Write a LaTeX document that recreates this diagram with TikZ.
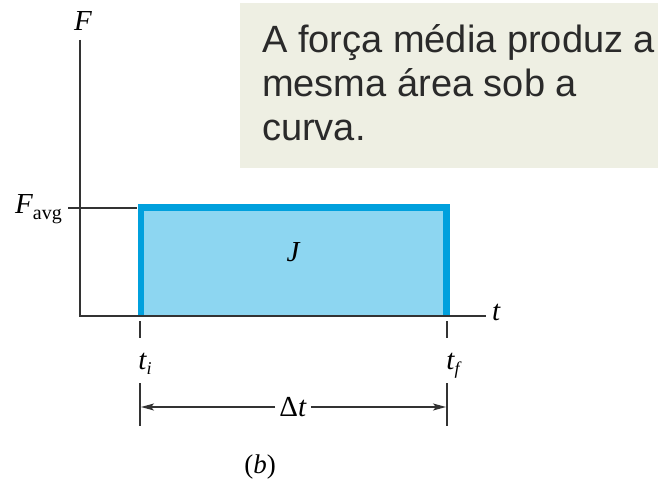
\documentclass[tikz,border=0pt]{standalone}
\usepackage{fontspec}
\setmainfont{Liberation Serif}
\newfontfamily\boxfont{Liberation Sans}
\usetikzlibrary{arrows.meta}
\definecolor{barfill}{HTML}{8DD6F1}
\definecolor{barline}{HTML}{00A0DD}
\definecolor{notebg}{HTML}{EEEFE3}
\definecolor{inkgray}{HTML}{333333}
\definecolor{boxtext}{HTML}{2A2A2A}
\begin{document}
\begin{tikzpicture}[x=1pt,y=-1pt,
  axis/.style={line width=1.2pt, draw=inkgray},
  lbl/.style={font=\fontsize{29}{30}\selectfont\itshape, inner sep=0, text=black},
  notetext/.style={anchor=base west, font=\boxfont\fontsize{38}{44}\selectfont, text=boxtext, inner sep=0}]
\useasboundingbox (0,0) rectangle (658,481);
\fill[white] (0,0) rectangle (658,481);
% note box
\fill[notebg] (240,3) rectangle (658,168);
\node[notetext] (l1) at (262,53) {A força média produz a};
\node[notetext] (l2) at (262,97) {mesma área sob a};
\node[notetext] (l3) at (262,141) {curva.};
% bar
\fill[barfill] (141,207.5) rectangle (446.5,316);
\draw[barline, line width=6.5pt, line join=miter] (141,316) -- (141,207.5) -- (446.5,207.5) -- (446.5,316);
% axes
\coordinate (top) at (80,40);
\coordinate (o) at (80,316);
\coordinate (right) at (486,316);
\draw[axis] (top) -- (o) -- (right);
\coordinate (fa1) at (68,208);
\coordinate (fa2) at (137,208);
\draw[axis] (fa1) -- (fa2);
% ticks
\coordinate (ti1) at (140,321); \coordinate (ti2) at (140,338);
\coordinate (tf1) at (447,321); \coordinate (tf2) at (447,338);
\draw[axis] (ti1) -- (ti2);
\draw[axis] (tf1) -- (tf2);
% dimension
\coordinate (di1) at (140,383); \coordinate (di2) at (140,426);
\coordinate (df1) at (447,383); \coordinate (df2) at (447,426);
\draw[axis] (di1) -- (di2);
\draw[axis] (df1) -- (df2);
\coordinate (da) at (141,407); \coordinate (db) at (446,407);
\node[lbl, font=\fontsize{29}{30}\selectfont, fill=white, inner xsep=4pt] (dt) at (293,407) {Δ\textit{t}};
\draw[line width=1.2pt, draw=inkgray, -{Stealth[length=13pt,width=7pt,inset=3pt]}] (dt.west) -- (da);
\draw[line width=1.2pt, draw=inkgray, -{Stealth[length=13pt,width=7pt,inset=3pt]}] (dt.east) -- (db);
% labels
\node[lbl] (F) at (83,21) {F};
\node[lbl, anchor=base east] (Favg) at (62,213) {F\raisebox{-6pt}{\upshape\fontsize{20}{20}\selectfont avg}};
\node[lbl, anchor=base west] (tlab) at (492,320) {t};
\node[lbl, anchor=base] (tilab) at (145,369) {t\raisebox{-5pt}{\fontsize{18}{18}\selectfont i}};
\node[lbl, anchor=base] (tflab) at (453,369) {t\raisebox{-5pt}{\fontsize{18}{18}\selectfont f}};
\node[lbl] (J) at (293,252) {J};
\node[lbl, font=\fontsize{27}{28}\selectfont, anchor=base] (b) at (260,473) {(\textit{b})};
\end{tikzpicture}
\end{document}
